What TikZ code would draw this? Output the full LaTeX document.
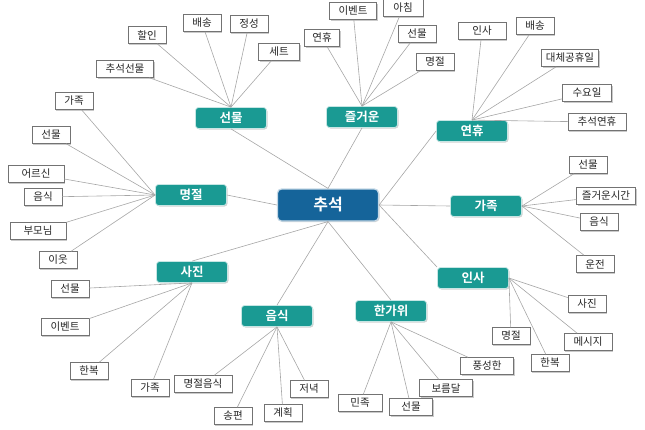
\documentclass[tikz,border=0pt]{standalone}
\usepackage{fontspec}
\setmainfont{Noto Sans CJK KR}[BoldFont={Noto Sans CJK KR Bold}]
\usetikzlibrary{shadows}
\definecolor{tealc}{HTML}{1A9A93}
\definecolor{bluec}{HTML}{15649A}
\definecolor{linkc}{HTML}{A6A6A6}
\begin{document}
\begin{tikzpicture}[x=1pt,y=-1pt,
 leaf/.style={draw=black!55, fill=white, line width=0.5pt, font=\fontsize{10.5}{11}\selectfont, text=black!85, minimum width=38pt, minimum height=17pt, inner sep=0.5pt, drop shadow={shadow xshift=1pt, shadow yshift=-1pt, opacity=0.35, fill=black!60}},
 cat/.style={fill=tealc, draw=tealc!25, line width=0.8pt, rounded corners=3pt, text=white, font=\fontsize{12.5}{13}\selectfont\bfseries, minimum width=71pt, minimum height=21pt, inner sep=0.5pt, drop shadow={shadow xshift=1pt, shadow yshift=-1pt, opacity=0.3, fill=black!60}},
 root/.style={fill=bluec, draw=bluec!25, line width=1.2pt, rounded corners=4pt, text=white, font=\fontsize{16}{17}\selectfont\bfseries, minimum width=101pt, minimum height=32pt, inner sep=1pt, drop shadow={shadow xshift=1pt, shadow yshift=-1pt, opacity=0.3, fill=black!60}},
 link/.style={draw=linkc, line width=0.6pt}]
\useasboundingbox (0,0) rectangle (645,429);
% root and categories
\node[root] (c) at (328,205) {추석};
\node[cat] (sm) at (231,118) {선물};
\node[cat] (jg) at (362,117) {즐거운};
\node[cat] (yh) at (472,131) {연휴};
\node[cat] (gj) at (486,206) {가족};
\node[cat] (is) at (473,278) {인사};
\node[cat] (hg) at (391,311) {한가위};
\node[cat] (es) at (277,316) {음식};
\node[cat] (sj) at (192,272) {사진};
\node[cat] (mj) at (191,195) {명절};
% 선물 leaves
\node[leaf] (sm1) at (147,35) {할인};
\node[leaf] (sm2) at (202,23) {배송};
\node[leaf] (sm3) at (249,24) {정성};
\node[leaf, minimum width=41pt] (sm4) at (279,52) {세트};
\node[leaf, minimum width=57pt] (sm5) at (125,69) {추석선물};
% 즐거운 leaves
\node[leaf, minimum width=35pt] (jg1) at (322,38) {연휴};
\node[leaf, minimum width=47pt] (jg2) at (353,11) {이벤트};
\node[leaf, minimum width=40pt] (jg3) at (403,8) {아침};
\node[leaf] (jg4) at (417,34) {선물};
\node[leaf] (jg5) at (435,62) {명절};
% 연휴 leaves
\node[leaf, minimum width=48pt] (yh1) at (482,31) {인사};
\node[leaf] (yh2) at (535,26) {배송};
\node[leaf, minimum width=57pt] (yh3) at (570,58) {대체공휴일};
\node[leaf, minimum width=49pt] (yh4) at (587,93) {수요일};
\node[leaf, minimum width=58pt] (yh5) at (597,122) {추석연휴};
% 가족 leaves
\node[leaf] (gj1) at (588,165) {선물};
\node[leaf, minimum width=59pt] (gj2) at (606,196) {즐거운시간};
\node[leaf] (gj3) at (599,222) {음식};
\node[leaf] (gj4) at (595,264) {운전};
% 인사 leaves
\node[leaf] (is1) at (587,304) {사진};
\node[leaf, minimum width=48pt] (is2) at (588,342) {메시지};
\node[leaf] (is3) at (511,336) {명절};
\node[leaf] (is4) at (550,363) {한복};
% 한가위 leaves
\node[leaf, minimum width=53pt] (hg1) at (487,366) {풍성한};
\node[leaf, minimum width=53pt] (hg2) at (446,388) {보름달};
\node[leaf, minimum width=43pt] (hg3) at (411,407) {선물};
\node[leaf, minimum width=44pt] (hg4) at (360,403) {민족};
% 음식 leaves
\node[leaf, minimum width=58pt] (es1) at (203,384) {명절음식};
\node[leaf] (es2) at (233,416) {송편};
\node[leaf] (es3) at (283,413) {계획};
\node[leaf] (es4) at (309,389) {저녁};
% 사진 leaves
\node[leaf] (sj1) at (70,289) {선물};
\node[leaf, minimum width=48pt] (sj2) at (65,327) {이벤트};
\node[leaf] (sj3) at (89,371) {한복};
\node[leaf] (sj4) at (150,388) {가족};
% 명절 leaves
\node[leaf] (mj1) at (74,101) {가족};
\node[leaf] (mj2) at (51,135) {선물};
\node[leaf, minimum width=56pt] (mj3) at (36,174) {어르신};
\node[leaf] (mj4) at (43,197) {음식};
\node[leaf, minimum width=56pt] (mj5) at (38,231) {부모님};
\node[leaf] (mj6) at (58,260) {이웃};
% root links
\draw[link] (c.north) -- (sm.south);
\draw[link] (c.north) -- (jg.south);
\draw[link] (c.east) -- (yh.west);
\draw[link] (c.east) -- (gj.west);
\draw[link] (c.east) -- (is.north west);
\draw[link] (c.south) -- (hg.north);
\draw[link] (c.south) -- (es.north);
\draw[link] (c.south) -- (sj.north);
\draw[link] (c.west) -- (mj.east);
% leaf links
\foreach \l in {sm1,sm2,sm3,sm4,sm5} \draw[link] (sm.north) -- (\l);
\foreach \l in {jg1,jg2,jg3,jg4,jg5} \draw[link] (jg.north) -- (\l);
\foreach \l in {yh1,yh2,yh3,yh4,yh5} \draw[link] (yh.north) -- (\l);
\foreach \l in {gj1,gj2,gj3,gj4} \draw[link] (gj.east) -- (\l);
\foreach \l in {is1,is2,is3,is4} \draw[link] (is.east) -- (\l);
\foreach \l in {hg1,hg2,hg3,hg4} \draw[link] (hg.south) -- (\l);
\foreach \l in {es1,es2,es3,es4} \draw[link] (es.south) -- (\l);
\foreach \l in {sj1,sj2,sj3,sj4} \draw[link] (sj.south) -- (\l);
\foreach \l in {mj1,mj2,mj3,mj4,mj5,mj6} \draw[link] (mj.west) -- (\l);
\end{tikzpicture}
\end{document}
